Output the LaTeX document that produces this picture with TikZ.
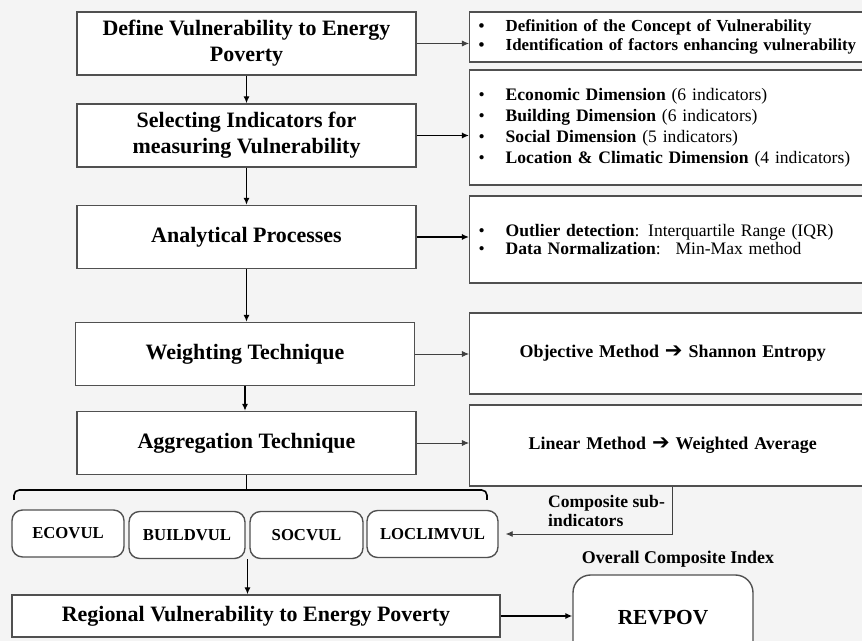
\documentclass[tikz,border=0pt]{standalone}
\usepackage{fontspec}
\setmainfont{Liberation Serif}
\newfontfamily\arrowfont{DejaVu Sans}
\usetikzlibrary{arrows.meta,positioning,calc}
\definecolor{bgcol}{RGB}{244,244,244}
\definecolor{boxline}{RGB}{80,80,80}
\newcommand{\bul}{\makebox[0.54cm][l]{\textbullet}}
\newcommand{\harrow}{{\arrowfont\bfseries\fontsize{12}{12}\selectfont ➔}}
\newcommand{\tip}{Latex[length=4pt,width=3.5pt]}

\tikzset{
  stepbox/.style={draw=boxline, line width=0.8pt, fill=white, minimum width=6.78cm,
    minimum height=1.26cm, align=center, font=\bfseries\fontsize{12.5}{14.8}\selectfont},
  listbox/.style={draw=boxline, line width=0.8pt, fill=white, anchor=west, text width=7.76cm,
    inner xsep=0.18cm, align=left, font=\fontsize{10}{12}\selectfont},
  subbox/.style={draw=boxline, line width=0.8pt, rounded corners=6pt, fill=white,
    minimum height=0.94cm, font=\bfseries\fontsize{9.5}{11}\selectfont},
  flow/.style={-{\tip}, line width=0.9pt},
  side/.style={-{\tip}, line width=0.5pt, draw=black!75},
}

\begin{document}
\begin{tikzpicture}[x=0.02cm, y=-0.02cm]
\useasboundingbox[fill=bgcol] (0,0) rectangle (862,641);
\clip (0,0) rectangle (862,641);
% main steps
\node[stepbox] (def) at (246.5,43.5) {Define Vulnerability to Energy\\Poverty};
\node[stepbox] (sel) at (246.5,135.5) {Selecting Indicators for\\measuring Vulnerability};
\node[stepbox] (ana) at (246.5,237) {Analytical Processes};
\node[stepbox] (wei) at (245,354) {Weighting Technique};
\node[stepbox] (agg) at (246.5,443) {Aggregation Technique};
% details
\node[listbox, minimum height=1.0cm, font=\bfseries\fontsize{9.6}{11.3}\selectfont] (r1) at (469,37)
  {\bul Definition of the Concept of Vulnerability\\
   \bul Identification of factors enhancing vulnerability};
\node[listbox, minimum height=2.3cm] (r2) at (469,127.5)
  {\bul\textbf{Economic Dimension} (6 indicators)\\
   \bul\textbf{Building Dimension} (6 indicators)\\
   \bul\textbf{Social Dimension} (5 indicators)\\
   \bul\textbf{Location \& Climatic Dimension} (4 indicators)};
\node[listbox, minimum height=1.74cm, font=\fontsize{10}{10.2}\selectfont] (r3) at (469,239.5)
  {\bul\textbf{Outlier detection}: Interquartile Range (IQR)\\
   \bul\textbf{Data Normalization}:~ Min-Max method};
\node[listbox, minimum height=1.62cm, align=center, font=\bfseries\fontsize{10.2}{12}\selectfont] (r4) at (469,353.5)
  {Objective Method \harrow{} Shannon Entropy};
\node[listbox, minimum height=1.62cm, align=center, font=\bfseries\fontsize{10.2}{12}\selectfont] (r5) at (469,445.5)
  {Linear Method \harrow{} Weighted Average};
% flow
\draw[flow] (def) -- (sel);
\draw[flow] (sel) -- (ana);
\draw[flow] (ana.south) -- (ana.south |- wei.north);
\draw[flow] (wei.south) -- (wei.south |- agg.north);
\draw[side] (def.east) -- (def.east -| r1.west);
\draw[flow] (sel.east) -- (sel.east -| r2.west);
\draw[flow] (ana.east) -- (ana.east -| r3.west);
\draw[side] (wei.east) -- (wei.east -| r4.west);
\draw[side] (agg.east) -- (agg.east -| r5.west);
% sub-indices
\coordinate (brl) at (14,500);
\coordinate (brm) at (250,490);
\coordinate (brr) at (487,500);
\draw[line width=0.9pt, rounded corners=3pt] (brl) -- (brl |- brm) -- (brr |- brm) -- (brr);
\draw[line width=0.9pt] (agg.south) -- (agg.south |- brm);
\node[subbox, minimum width=2.24cm] (eco) at (68,533.5) {ECOVUL};
\node[subbox, minimum width=2.32cm] (bui) at (187,535) {BUILDVUL};
\node[subbox, minimum width=2.26cm] (soc) at (306.5,535) {SOCVUL};
\node[subbox, minimum width=2.62cm] (loc) at (432.5,534) {LOCLIMVUL};
\draw[side, shorten >=0.14cm] (r5.south) |- (loc.east);
\node[anchor=west, align=left, font=\bfseries\fontsize{10}{11.3}\selectfont] (csi) at (542,511)
  {Composite sub-\\indicators};
% overall index
\node[stepbox, minimum width=9.76cm, minimum height=0.84cm] (reg) at (256,616)
  {Regional Vulnerability to Energy Poverty};
\coordinate (mid) at ($(bui.south east)!0.5!(soc.south west)$);
\draw[flow] (mid) -- (mid |- reg.north);
\node[draw=boxline, line width=0.8pt, fill=white, rounded corners=10pt, minimum width=3.6cm,
  minimum height=1.7cm, font=\bfseries\fontsize{12.2}{15}\selectfont] (rev) at (663,617.5) {REVPOV};
\node[font=\bfseries\fontsize{10.2}{11.3}\selectfont] (oci) at (678,559) {Overall Composite Index};
\draw[flow] (reg.east) -- (reg.east -| rev.west);
\end{tikzpicture}
\end{document}
